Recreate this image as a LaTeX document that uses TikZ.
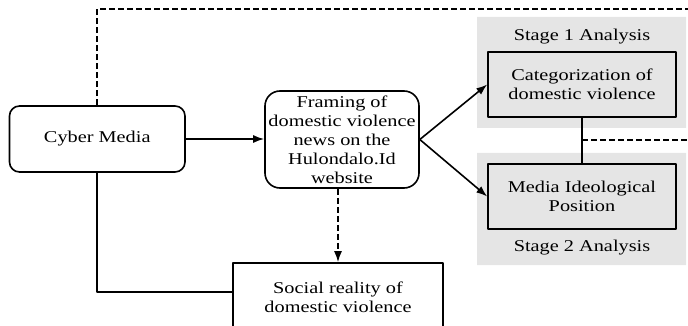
\documentclass[tikz,border=0pt]{standalone}
\usepackage{fontspec}
\setmainfont{Liberation Serif}[FakeStretch=1.23]
\usetikzlibrary{arrows.meta}
\begin{document}
\begin{tikzpicture}[x=1pt, y=-1pt, font=\fontsize{16.5}{19}\selectfont, line width=1.6pt, line join=round, >={Latex[length=11pt,width=8pt]},
	box/.style={draw, align=center, inner sep=0pt},
	dsh/.style={dash pattern=on 6pt off 3pt}]
	\useasboundingbox (0,0) rectangle (688,326);
	\clip (0,0) rectangle (688,326);
	% stage panels
	\fill[black!10] (477,17) rectangle (686,128) (477,153) rectangle (686,265);
	\node (stagea) at (582,37) {Stage 1 Analysis};
	\node (stageb) at (582,248) {Stage 2 Analysis};
	\node[box, fill=black!10, minimum width=188pt, minimum height=65pt] (cat) at (582,84.5) {Categorization of\\domestic violence};
	\node[box, fill=black!10, minimum width=188pt, minimum height=65pt] (ideo) at (582,196.5) {Media Ideological\\Position};
	% left part
	\node[box, rounded corners=10pt, minimum width=175.5pt, minimum height=66pt] (cyber) at (97.25,139) {Cyber Media};
	\node[box, rounded corners=15pt, minimum width=154pt, minimum height=97pt] (framing) at (342,139.5) {Framing of\\domestic violence\\news on the\\Hulondalo.Id\\website};
	\node[box, minimum width=210pt, minimum height=68pt] (social) at (338,297) {Social reality of\\domestic violence};
	\coordinate (topr) at (690,9);
	\coordinate (midr) at (690,140);
	% connectors
	\draw[->] (cyber.east) -- (cyber.east -| framing.west);
	\draw[->] (framing.east) -- (cat.west);
	\draw[->] (framing.east) -- (ideo.west);
	\draw (cat) -- (ideo);
	\draw[->, dsh] (framing.south -| social.north) -- (social.north);
	\draw (cyber.south) |- ([yshift=5pt]social.west);
	\draw[dsh] (cyber.north) |- (topr);
	\draw[dsh] (cat.south |- midr) -- (midr);
\end{tikzpicture}
\end{document}
